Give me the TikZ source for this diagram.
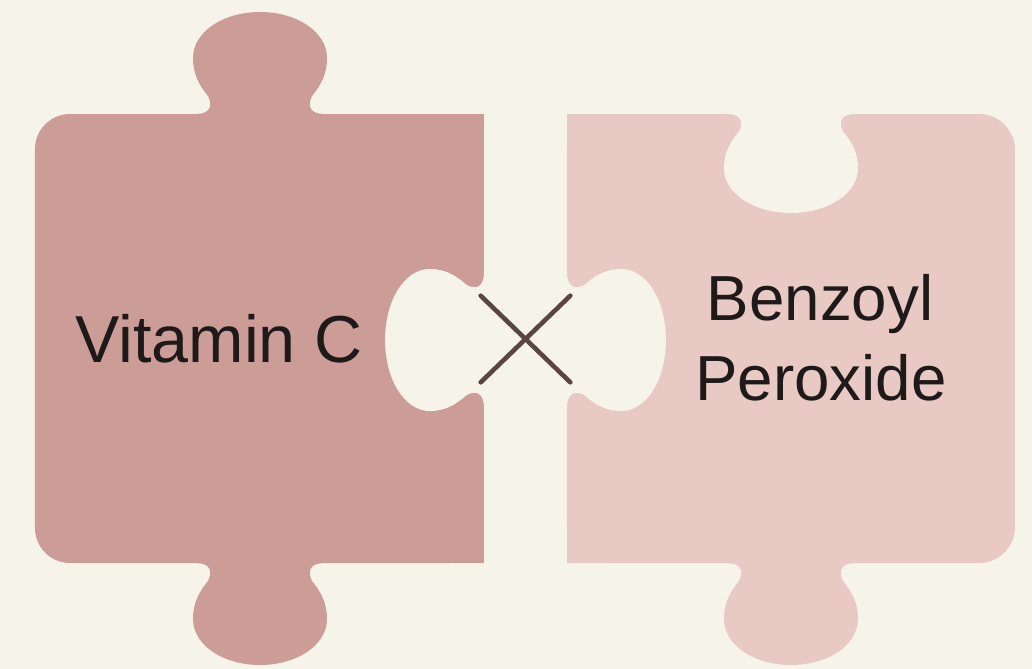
\documentclass[tikz,border=0pt]{standalone}
\usepackage{fontspec}
\setmainfont{Liberation Sans}
\usetikzlibrary{shapes.misc}
\definecolor{paper}{HTML}{F6F3E8}
\definecolor{vitc}{HTML}{CC9C96}
\definecolor{bpox}{HTML}{E8C9C3}
\definecolor{ink}{HTML}{1E1A1A}
\definecolor{xline}{HTML}{5B4540}
\tikzset{
    knob/.pic={
        \fill (-64,0) .. controls (-50,0) and (-47,-8) .. (-52,-18)
            .. controls (-61,-29) and (-67,-40) .. (-67,-56)
            .. controls (-67,-82) and (-37,-102) .. (0,-102)
            .. controls (37,-102) and (67,-82) .. (67,-56)
            .. controls (67,-40) and (61,-29) .. (52,-18)
            .. controls (47,-8) and (50,0) .. (64,0)
            -- (64,4) -- (-64,4) -- cycle;
    },
    label/.style={text=ink,inner sep=0pt}
}
\begin{document}
\begin{tikzpicture}[x=0.01cm,y=-0.01cm]
            \fill[paper] (0,0) rectangle (1032,669);
            \useasboundingbox (0,0) rectangle (1032,669);

            % left piece
            \fill[vitc,rounded corners=0.35cm] (35,114) rectangle (484,563);
            \fill[vitc] (300,114) rectangle (484,563);
            \pic[fill=vitc] at (260,114) {knob};
            \pic[fill=vitc,rotate=180] at (260,563) {knob};
            \pic[fill=paper,rotate=90,xscale=1.06,yscale=0.97] at (484,340) {knob};

            % right piece
            \fill[bpox,rounded corners=0.36cm] (567,114) rectangle (1015,563);
            \fill[bpox] (567,114) rectangle (750,563);
            \pic[fill=bpox,rotate=180] at (791,563) {knob};
            \pic[fill=paper,rotate=180,yscale=0.97] at (791,114) {knob};
            \pic[fill=paper,rotate=-90,xscale=1.06,yscale=0.97] at (567,340) {knob};

            \node[label,font=\fontsize{18.9}{23}\selectfont] (vitamin) at (219,339) {Vitamin C};
            \node[label,anchor=base,font=\fontsize{18.1}{23}\selectfont] (benzoyl) at (820,320) {Benzoyl};
            \node[label,anchor=base,font=\fontsize{18.1}{23}\selectfont] (peroxide) at (821,400) {Peroxide};

            \node[cross out,draw=xline,line width=1.3pt,line cap=round,inner sep=0pt,
                minimum width=0.85cm,minimum height=0.82cm] (versus) at (525.5,339) {};
\end{tikzpicture}
\end{document}
